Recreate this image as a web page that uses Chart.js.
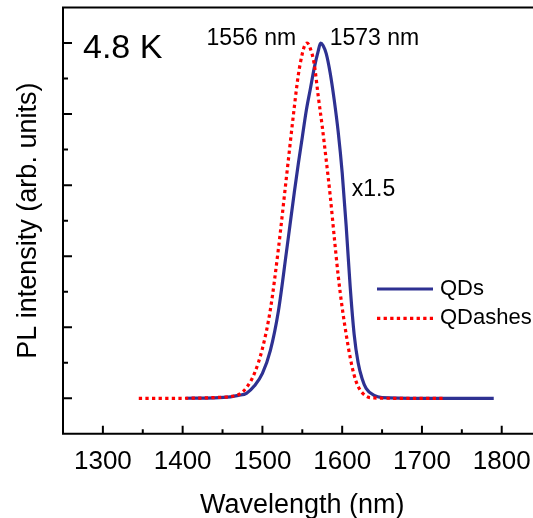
<!DOCTYPE html>
<html>
<head>
<meta charset="utf-8">
<script src="https://cdn.jsdelivr.net/npm/chart.js@4/dist/chart.umd.min.js"></script>
<style>
  html, body { margin: 0; padding: 0; background: #fff; overflow: hidden; }
  #wrap { position: absolute; left: 0; top: 0; width: 545px; height: 518px; }
</style>
</head>
<body>
<div id="wrap"><canvas id="c"></canvas></div>
<script>
// PL spectra at 4.8 K (normalised; QD spectrum scaled x1.5)
const qdWavelength = [1404, 1440, 1460, 1470, 1480, 1490, 1500, 1510, 1520, 1530, 1540, 1545, 1550, 1555, 1560, 1565, 1570, 1573, 1576, 1580, 1585, 1590, 1595, 1600, 1605, 1610, 1615, 1620, 1625, 1630, 1640, 1650, 1700, 1790];
const qdIntensity  = [0, 0.001, 0.004, 0.008, 0.014, 0.035, 0.07, 0.135, 0.245, 0.41, 0.58, 0.66, 0.735, 0.81, 0.87, 0.93, 0.978, 1.0, 0.993, 0.97, 0.915, 0.84, 0.75, 0.635, 0.485, 0.315, 0.18, 0.1, 0.055, 0.028, 0.008, 0.002, 0, 0];

const qdashWavelength = [1345, 1400, 1440, 1460, 1470, 1480, 1490, 1500, 1510, 1520, 1530, 1540, 1545, 1550, 1553, 1556, 1560, 1565, 1570, 1575, 1580, 1585, 1590, 1595, 1600, 1605, 1610, 1615, 1620, 1630, 1640, 1660, 1727];
const qdashIntensity  = [0, 0, 0.002, 0.005, 0.01, 0.03, 0.07, 0.14, 0.25, 0.42, 0.62, 0.82, 0.91, 0.97, 0.993, 1.0, 0.985, 0.94, 0.85, 0.765, 0.67, 0.57, 0.455, 0.345, 0.255, 0.18, 0.115, 0.065, 0.033, 0.006, 0.001, 0, 0];

const qdPeak = 1573;
const qdashPeak = 1556;

// axis ticks
const xMajorTicks = [1300, 1400, 1500, 1600, 1700, 1800];
const xMinorTicks = [1350, 1450, 1550, 1650, 1750];
const yMajorTicks = [0, 0.2, 0.4, 0.6, 0.8, 1.0];
const yMinorTicks = [0.1, 0.3, 0.5, 0.7, 0.9];

const FONT = 'Arial, "Liberation Sans", sans-serif';
const QD_COLOR = '#2e3192';
const QDASH_COLOR = '#ff0000';

const toPoints = (xs, ys) => xs.map((x, i) => ({ x: x, y: ys[i] }));

// frame with inward ticks, open on the right side
const framePlugin = {
  id: 'frame',
  beforeDatasetsDraw(chart) {
    const { ctx, chartArea: { left, top, bottom }, scales: { x, y } } = chart;
    ctx.save();
    ctx.strokeStyle = '#000';
    ctx.lineWidth = 2;
    ctx.beginPath();
    ctx.moveTo(chart.width, top);
    ctx.lineTo(left, top);
    ctx.lineTo(left, bottom);
    ctx.lineTo(chart.width, bottom);
    xMajorTicks.forEach(v => { const p = x.getPixelForValue(v); ctx.moveTo(p, bottom); ctx.lineTo(p, bottom - 8); });
    xMinorTicks.forEach(v => { const p = x.getPixelForValue(v); ctx.moveTo(p, bottom); ctx.lineTo(p, bottom - 4.5); });
    yMajorTicks.forEach(v => { const p = y.getPixelForValue(v); ctx.moveTo(left, p); ctx.lineTo(left + 9, p); });
    yMinorTicks.forEach(v => { const p = y.getPixelForValue(v); ctx.moveTo(left, p); ctx.lineTo(left + 5, p); });
    ctx.stroke();
    ctx.restore();
  },
  afterDraw(chart) {
    const { ctx, chartArea: { left }, scales: { x, y } } = chart;
    ctx.save();
    ctx.fillStyle = '#000';
    ctx.textBaseline = 'middle';

    ctx.font = '34px ' + FONT;
    ctx.textAlign = 'left';
    ctx.fillText('4.8 K', left + 20, 48.5);

    const peakY = y.getPixelForValue(1.0) - 4;
    ctx.font = '23px ' + FONT;
    ctx.textAlign = 'right';
    ctx.fillText(qdashPeak + ' nm', x.getPixelForValue(qdashPeak) - 11, peakY);
    ctx.textAlign = 'left';
    ctx.fillText(qdPeak + ' nm', x.getPixelForValue(qdPeak) + 9, peakY);

    ctx.fillText('x1.5', x.getPixelForValue(1612), y.getPixelForValue(0.588));

    // legend
    const lx0 = 377, lx1 = 433, tx = 440;
    const rows = [289, 318.3];
    chart.data.datasets.forEach((ds, i) => {
      const ry = rows[i];
      ctx.save();
      ctx.strokeStyle = ds.borderColor;
      ctx.lineWidth = ds.borderWidth;
      ctx.setLineDash(ds.borderDash || []);
      ctx.beginPath();
      ctx.moveTo(lx0, ry);
      ctx.lineTo(lx1, ry);
      ctx.stroke();
      ctx.restore();
      ctx.font = '22px ' + FONT;
      ctx.fillStyle = '#000';
      ctx.textAlign = 'left';
      ctx.fillText(ds.label, tx, ry - 0.5);
    });
    ctx.restore();
  }
};

new Chart(document.getElementById('c'), {
  type: 'line',
  data: {
    datasets: [
      {
        label: 'QDs',
        data: toPoints(qdWavelength, qdIntensity),
        borderColor: QD_COLOR,
        borderWidth: 3.2,
        pointRadius: 0,
        cubicInterpolationMode: 'monotone',
        fill: false,
        order: 1
      },
      {
        label: 'QDashes',
        data: toPoints(qdashWavelength, qdashIntensity),
        borderColor: QDASH_COLOR,
        borderWidth: 3.2,
        borderDash: [3.3, 3.3],
        pointRadius: 0,
        cubicInterpolationMode: 'monotone',
        fill: false,
        order: 0
      }
    ]
  },
  options: {
    responsive: true,
    maintainAspectRatio: false,
    animation: false,
    layout: { padding: { left: 12, right: 3.4, top: 7.5, bottom: 0 } },
    plugins: { legend: { display: false }, tooltip: { enabled: false } },
    scales: {
      x: {
        type: 'linear',
        min: 1250,
        max: 1850,
        afterBuildTicks: s => { s.ticks = xMajorTicks.map(v => ({ value: v })); },
        ticks: { color: '#000', font: { family: FONT, size: 26 }, padding: 12.2, maxRotation: 0, autoSkip: false, callback: v => String(v) },
        grid: { display: false, drawTicks: false },
        border: { display: false },
        title: { display: true, text: 'Wavelength (nm)', color: '#000', font: { family: FONT, size: 27 }, padding: { top: 0.2, bottom: -4 } }
      },
      y: {
        type: 'linear',
        min: -0.1,
        max: 1.1,
        ticks: { display: false },
        grid: { display: false, drawTicks: false },
        border: { display: false },
        title: { display: true, text: 'PL intensity (arb. units)', color: '#000', font: { family: FONT, size: 27 }, padding: { top: 0, bottom: 18.6 } }
      }
    }
  },
  plugins: [framePlugin]
});
</script>
</body>
</html>
